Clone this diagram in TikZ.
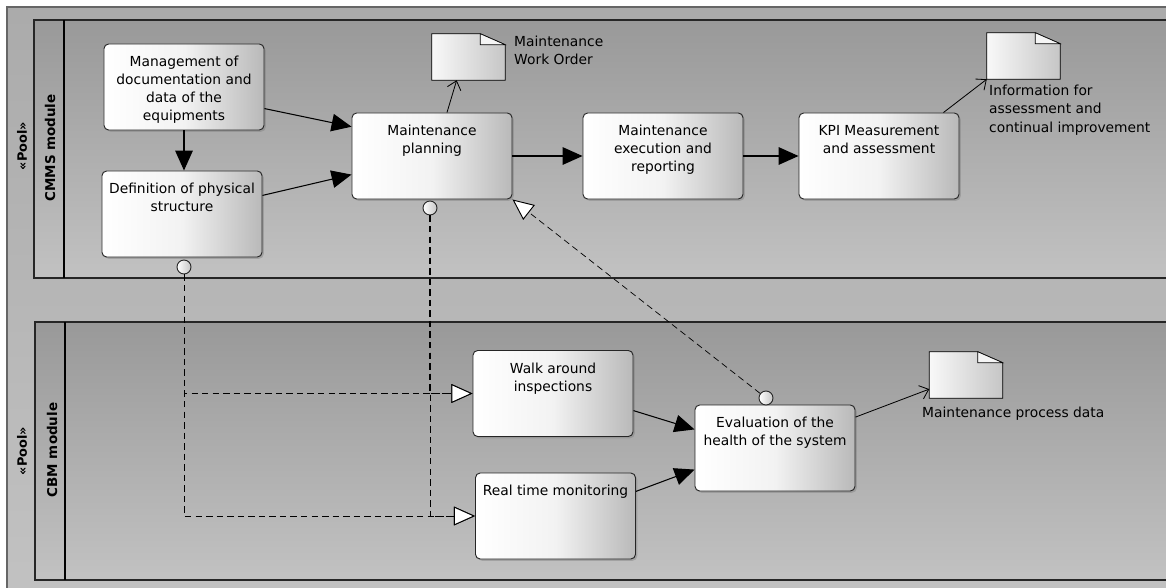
\documentclass[tikz,border=0pt]{standalone}
\usepackage{fontspec}
\setmainfont{DejaVu Sans}
\usepackage{tikz}
\usetikzlibrary{arrows.meta,shadows,calc,positioning}

\newcommand{\tasktext}[1]{\parbox[t][1.86cm][t]{4.6cm}{\centering #1}}

\begin{document}
\begin{tikzpicture}[x=0.03cm,y=-0.03cm,
  font=\fontsize{11.8}{15.5}\selectfont,
  pool/.style={draw=black!85,line width=1.1pt,top color=gray!80,bottom color=gray!48},
  task/.style={draw=black!85,line width=0.8pt,rounded corners=4pt,inner xsep=0.1cm,inner ysep=0.36cm,
    left color=white,right color=gray!55,middle color=gray!10,
    drop shadow={shadow xshift=1.5pt,shadow yshift=-1.5pt,opacity=.45}},
  event/.style={circle,draw=black!85,line width=0.8pt,minimum size=0.42cm,inner sep=0,left color=white,right color=gray!45},
  doc/.style={minimum width=2.19cm,minimum height=1.38cm,inner sep=0},
  doclabel/.style={anchor=north west,inner sep=0,align=left},
  poollbl/.style={rotate=90,font=\bfseries\fontsize{11}{12}\selectfont},
  lanelbl/.style={rotate=90,font=\bfseries\fontsize{11.5}{13}\selectfont},
  seq/.style={line width=0.9pt,-{Triangle[length=17pt,width=15pt]}},
  msg/.style={line width=0.8pt,dash pattern=on 5.5pt off 3.5pt,-{Triangle[open,fill=white,length=18pt,width=16pt,line width=0.8pt]}},
  assoc/.style={line width=0.7pt,-{Straight Barb[length=7pt,width=12pt]}}]

\clip (0,0) rectangle (1166,588);
\fill[top color=gray!66,bottom color=gray!48] (7,7) rectangle (1175,595);
\draw[line width=1pt,black!60] (7,595) -- (7,7) -- (1175,7);

\draw[pool] (34,20) rectangle (1175,278);
\draw[line width=1.1pt] (64,20) -- (64,278);
\draw[pool] (35,322) rectangle (1175,580);
\draw[line width=1.1pt] (65,322) -- (65,580);
\node[poollbl] (cmmspool) at (22,146) {«Pool»};
\node[lanelbl] (cmms) at (50,148) {CMMS module};
\node[poollbl] (cbmpool) at (22,451) {«Pool»};
\node[lanelbl] (cbm) at (52,450) {CBM module};

\node[doc] (wo) at (468.5,57) {};
\node[doc] (info) at (1023.5,56) {};
\node[doc] (mpd) at (966,375) {};
\foreach \d in {wo,info,mpd}{
  \draw[line width=0.8pt,left color=gray!5,right color=gray!45]
    (\d.north west) -- ([xshift=-0.75cm]\d.north east) -- ([yshift=-0.33cm]\d.north east)
    -- (\d.south east) -- (\d.south west) -- cycle;
  \draw[line width=0.5pt,fill=white!92!gray] ([xshift=-0.75cm]\d.north east)
    -- ([xshift=-0.75cm,yshift=-0.33cm]\d.north east) -- ([yshift=-0.33cm]\d.north east) -- cycle;
}
\node[doclabel] (wolbl) at (514,36) {Maintenance\\Work Order};
\node[doclabel] (infolbl) at (989,85) {Information for\\assessment and\\continual improvement};
\node[doclabel] (mpdlbl) at (922,407) {Maintenance process data};

\node[task] (mgmt) at (184,87) {\tasktext{Management of\\documentation and\\data of the\\equipments}};
\node[task] (def) at (182,214) {\tasktext{Definition of physical\\structure}};
\node[task] (plan) at (432,156) {\tasktext{Maintenance\\planning}};
\node[task] (exec) at (663,156) {\tasktext{Maintenance\\execution and\\reporting}};
\node[task] (kpi) at (879,156) {\tasktext{KPI Measurement\\and assessment}};
\node[task] (walk) at (553,393.5) {\tasktext{Walk around\\inspections}};
\node[task] (rt) at (555.5,516) {\tasktext{Real time monitoring}};
\node[task] (eval) at (775,448) {\tasktext{Evaluation of the\\health of the system}};

\node[event] (defev) at (184,267) {};
\node[event] (planev) at (430,208) {};
\node[event] (evalev) at (766,398) {};

\draw[seq] (mgmt.-15) -- (plan.160);
\draw[seq] (def.13) -- (plan.193);
\draw[seq] (mgmt.south) -- (mgmt.south |- def.north);
\draw[seq] (plan) -- (exec);
\draw[seq] (exec) -- (kpi);
\draw[seq] (walk.-12) -- (eval.167);
\draw[seq] (rt.17) -- (eval.195);

\draw[assoc] (plan.71) -- (wo.-117);
\draw[assoc] (kpi.34) -- (info.south west);
\draw[assoc] (eval.21) -- (mpd.201);

\draw[msg] (defev) |- (walk);
\draw[msg] (defev) |- (rt);
\draw[msg,line width=1.4pt] (planev) |- (walk);
\draw[msg] (planev) |- (rt);
\draw[msg,line width=0.6pt] (evalev) -- (plan.south east);
\end{tikzpicture}
\end{document}
